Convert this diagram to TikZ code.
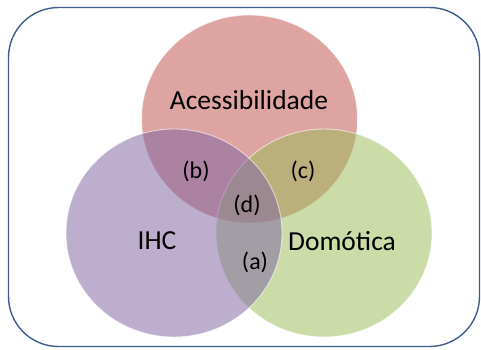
\documentclass[tikz,border=0pt]{standalone}
\usepackage{fontspec}
\setmainfont{Carlito}
\usepackage{tikz}
\usetikzlibrary{shapes.geometric}
\definecolor{frameblue}{RGB}{62,92,140}
\definecolor{setred}{HTML}{C0504D}
\definecolor{setgreen}{HTML}{9BBB59}
\definecolor{setpurple}{HTML}{8064A2}

\begin{document}
\begin{tikzpicture}[
  x=1pt,y=-1pt,
  venn/.style={ellipse,minimum width=216pt,minimum height=208pt,
    inner sep=0pt,fill opacity=0.52,draw=white,draw opacity=0.6,
    line width=0.9pt},
  lbl/.style={font=\fontsize{27.5}{33}\selectfont,text=black,inner sep=0pt},
  part/.style={font=\fontsize{24}{29}\selectfont,text=black,inner sep=0pt}
]
\useasboundingbox (0,0) rectangle (481,349);
\draw[frameblue,line width=1.4pt,rounded corners=50pt]
  (8.5,7.5) rectangle (479.5,346.5);
% the three sets
\node[venn,fill=setred] (acess) at (249.5,119) {};
\node[venn,fill=setgreen] (domo) at (324,233) {};
\node[venn,fill=setpurple] (ihc) at (174,233) {};
% names
\node[lbl] (tacess) at (249,100) {Acessibilidade};
\node[lbl] (tihc) at (157,241) {IHC};
\node[lbl] (tdomo) at (342,241) {Domótica};
% intersections
\node[part] (pa) at (255,262) {(a)};
\node[part] (pb) at (196,171) {(b)};
\node[part] (pc) at (303,171) {(c)};
\node[part] (pd) at (247,205) {(d)};
\end{tikzpicture}
\end{document}
